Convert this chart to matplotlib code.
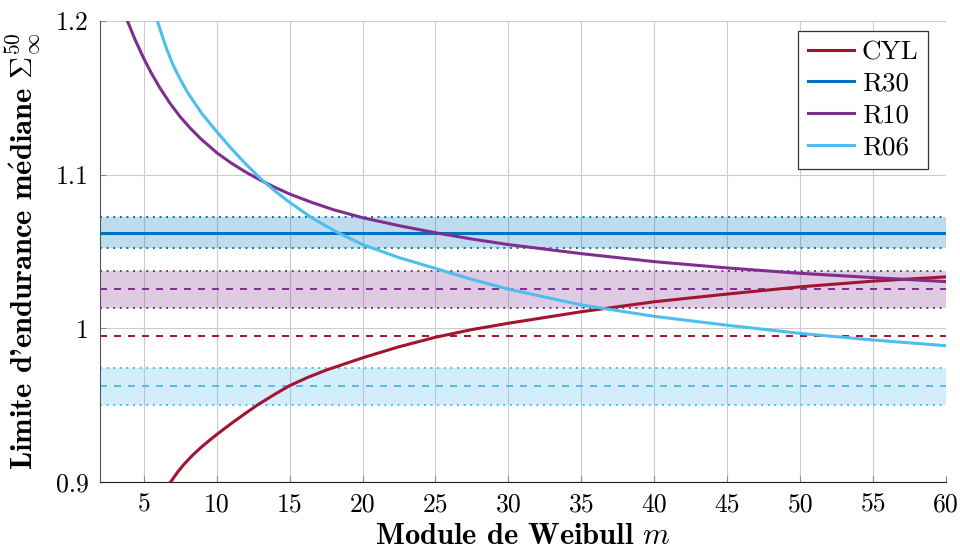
import numpy as np
import matplotlib
matplotlib.use("Agg")
import matplotlib.pyplot as plt

plt.rcParams['font.family'] = ['cmr10', 'DejaVu Serif']
plt.rcParams['mathtext.fontset'] = 'cm'
plt.rcParams['axes.unicode_minus'] = False
plt.rcParams['axes.formatter.use_mathtext'] = True

# courbes (m, Sigma)
m_cyl = [6.84, 7.3, 7.7, 8.3, 8.9, 9.5, 10, 11, 12, 12.9, 14, 15, 16.2, 17.5, 20,
         22.5, 25, 27.5, 30, 35, 40, 45, 50, 55, 60]
s_cyl = [0.9000, 0.9062, 0.9109, 0.9170, 0.9223, 0.9271, 0.9309, 0.9381, 0.9449,
         0.9508, 0.9572, 0.9627, 0.9679, 0.9728, 0.9808, 0.9880, 0.9942, 0.9992,
         1.0033, 1.0108, 1.0173, 1.0223, 1.0270, 1.0307, 1.0335]

m_r10 = [3.88, 4.4, 5, 5.5, 6.1, 6.8, 7.5, 8.2, 8.9, 10, 11, 12, 13, 14, 15, 16.5,
         18, 20, 22.5, 25, 27.5, 30, 35, 40, 45, 50, 55, 60]
s_r10 = [1.2000, 1.1879, 1.1756, 1.1664, 1.1565, 1.1464, 1.1376, 1.1301, 1.1234,
         1.1143, 1.1075, 1.1016, 1.0964, 1.0917, 1.0874, 1.0820, 1.0772, 1.0720,
         1.0668, 1.0622, 1.0581, 1.0545, 1.0486, 1.0434, 1.0393, 1.0358, 1.0330, 1.0304]

m_r06 = [5.93, 6.5, 7, 7.5, 8, 9, 10, 11, 12, 13, 14, 15, 16.5, 18.2, 20, 22.5, 25,
         27.5, 30, 35, 40, 45, 50, 55, 60]
s_r06 = [1.2000, 1.1835, 1.1715, 1.1620, 1.1535, 1.1395, 1.1280, 1.1170, 1.1068,
         1.0975, 1.0893, 1.0820, 1.0720, 1.0628, 1.0545, 1.0460, 1.0390, 1.0318,
         1.0255, 1.0152, 1.0078, 1.0020, 0.9967, 0.9924, 0.9887]

# valeurs experimentales : mediane et bande
exp_names = ['CYL', 'R30', 'R10', 'R06']
exp_med = [0.995, 1.062, 1.0258, 0.9625]
exp_low = [None, 1.0523, 1.0134, 0.9501]
exp_high = [None, 1.0725, 1.0375, 0.9742]

colors = {'CYL': '#A2142F', 'R30': '#0072BD', 'R10': '#7E2F8E', 'R06': '#4DBEEE'}

xticks = [5, 10, 15, 20, 25, 30, 35, 40, 45, 50, 55, 60]
yticks = [0.9, 1.0, 1.1, 1.2]
ytick_labels = ['0.9', '1', '1.1', '1.2']

fig = plt.figure(figsize=(9.6, 5.52), dpi=100)
ax = fig.add_axes([0.1042, 0.1268, 0.8812, 0.8352])

xmin, xmax = 2, 60
dash = (0, (3.6, 3.6))
dot = (0, (1, 2.4))

for name, med, lo, hi in zip(exp_names, exp_med, exp_low, exp_high):
    c = colors[name]
    if lo is not None:
        ax.axhspan(lo, hi, color=c, alpha=0.25, lw=0, zorder=1)
        ax.axhline(lo, color=c, lw=1.4, ls=dot, zorder=2)
        ax.axhline(hi, color=c, lw=1.4, ls=dot, zorder=2)
    if name == 'R30':
        ax.axhline(med, color=c, lw=2.2, zorder=3)
    else:
        ax.axhline(med, color=c, lw=1.4, ls=dash, zorder=2)

ax.plot(m_cyl, s_cyl, color=colors['CYL'], lw=2.2, label='CYL', zorder=4)
ax.plot([], [], color=colors['R30'], lw=2.2, label='R30')
ax.plot(m_r10, s_r10, color=colors['R10'], lw=2.2, label='R10', zorder=4)
ax.plot(m_r06, s_r06, color=colors['R06'], lw=2.2, label='R06', zorder=4)

ax.set_xlim(xmin, xmax)
ax.set_ylim(0.9, 1.2)
ax.set_xticks(xticks)
ax.set_xticklabels([str(t) for t in xticks])
ax.set_yticks(yticks)
ax.set_yticklabels(ytick_labels)
ax.tick_params(direction='in', length=4, color='#888888', labelsize=18.5, pad=8)
ax.grid(True, color='#cccccc', lw=0.8, zorder=0)
ax.set_axisbelow(True)

for s in ['top', 'right']:
    ax.spines[s].set_visible(False)
ax.spines['left'].set_color('#555555')
ax.spines['bottom'].set_color('#222222')

ax.set_xlabel(r"Module de Weibull $m$", fontsize=22, family=['cmb10', 'DejaVu Serif'])
ax.xaxis.set_label_coords(0.5, -0.09)
ax.xaxis.label.set_va('top')
ax.set_ylabel(r"Limite d'endurance m$\mathbf{\acute{e}}$diane $\Sigma_\infty^{50}$",
              fontsize=22, family=['cmb10', 'DejaVu Serif'])
ax.yaxis.set_label_coords(-0.068, 0.5)

leg = ax.legend(loc='upper right', fontsize=19.5, frameon=True, fancybox=False,
                edgecolor='#333333', framealpha=1, handlelength=1.7,
                borderpad=0.35, labelspacing=0.28, handletextpad=0.3,
                borderaxespad=0, bbox_to_anchor=(0.9787, 0.9783))
leg.get_frame().set_linewidth(0.9)

fig.savefig('out.png', dpi=100)
